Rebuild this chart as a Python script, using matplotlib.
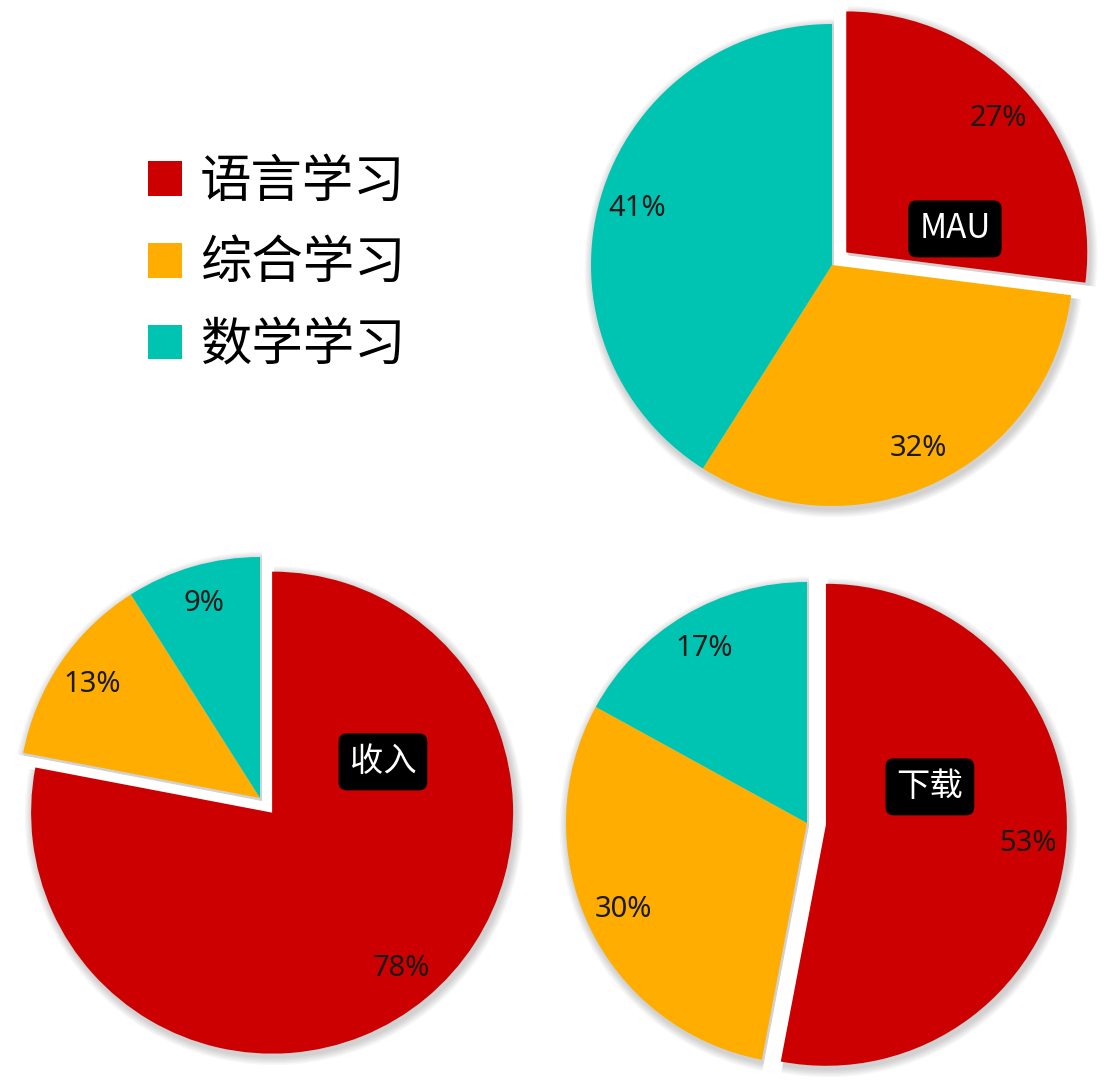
import matplotlib
matplotlib.use("Agg")
from matplotlib import pyplot as plt
from matplotlib.patches import Patch

# categories and shares (%)
categories = ["语言学习", "综合学习", "数学学习"]
colors = ["#CC0000", "#FFAD00", "#00C4B2"]
mau = [27, 32, 41]
income = [78, 13, 9]
download = [53, 30, 17]

plt.rcParams['font.family'] = ['Noto Sans CJK SC', 'DejaVu Sans']

fig = plt.figure(figsize=(11.04, 10.8), dpi=100)
ax = fig.add_axes([0, 0, 1, 1])

R = 241
pies = [
    (mau, "MAU", (832, 815)),
    (income, "收入", (260, 282)),
    (download, "下载", (807, 257)),
]

for vals, name, (cx, cy) in pies:
    expl = [19, 0, 0]
    # soft shadow: stacked translucent dark pies under the real one
    for k in range(1, 7):
        ax.pie(vals, explode=expl, center=(cx + 2, cy - 3), radius=R + k * 1.4,
               colors=["black"] * 3, startangle=90, counterclock=False,
               wedgeprops=dict(alpha=0.03, linewidth=0))
    wedges, texts, autotexts = ax.pie(
        vals, explode=expl, center=(cx, cy), radius=R, colors=colors,
        startangle=90, counterclock=False,
        autopct=lambda p: f"{p:.0f}%", pctdistance=0.84,
        wedgeprops=dict(linewidth=0),
        textprops=dict(fontsize=21, color="#1a1a1a", family=['Noto Sans', 'DejaVu Sans']))
    ax.text(cx + 0.51 * R, cy + 0.15 * R, name, color="white", fontsize=24,
            ha="center", va="center",
            bbox=dict(boxstyle="round,pad=0.33,rounding_size=0.25", fc="black", ec="none"))

handles = [Patch(facecolor=c, edgecolor="none") for c in colors]
ax.legend(handles, categories, loc="upper left", bbox_to_anchor=(148 / 1104, 1 - 155 / 1080),
          frameon=False, fontsize=37, handlelength=0.66, handleheight=0.66,
          handletextpad=0.35, labelspacing=0.55, borderpad=0, borderaxespad=0)

ax.set_xlim(0, 1104)
ax.set_ylim(0, 1080)
ax.set_aspect("equal")
ax.axis("off")

plt.savefig("out.png", dpi=100)
